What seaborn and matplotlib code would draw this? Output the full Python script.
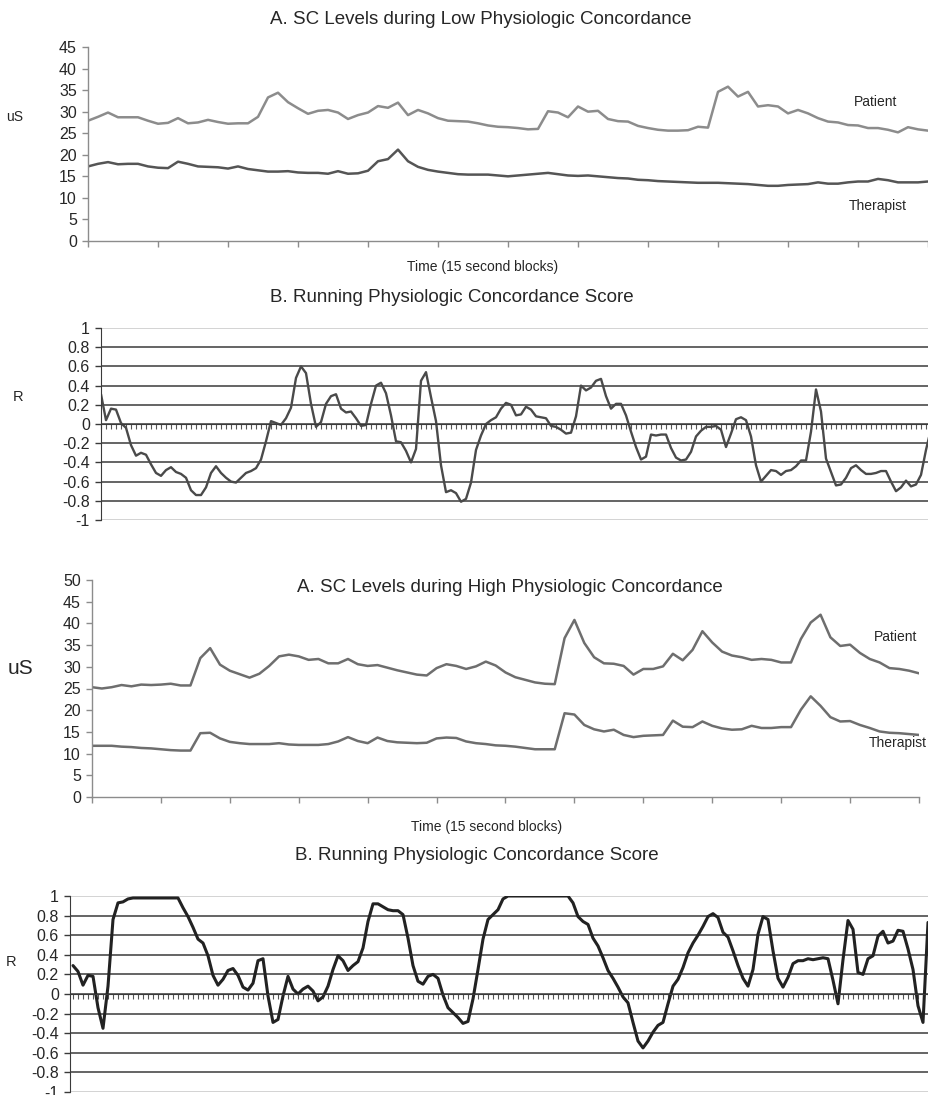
import numpy as np
import matplotlib
matplotlib.use('Agg')
import matplotlib.pyplot as plt
import seaborn as sns

# Constants
OUTPUT_FILE = 'out.png'
FIG_W, FIG_H = 929, 1095
FONT = ['Liberation Sans', 'DejaVu Sans']

# Panel A (low concordance): skin conductance, one value per 10 px step
LOW_PATIENT = [27.9, 28.8, 29.8, 28.7, 28.7, 28.7, 27.9, 27.2, 27.4, 28.5,
               27.3, 27.5, 28.1, 27.6, 27.2, 27.3, 27.3, 28.8, 33.3, 34.4,
               32.2, 30.8, 29.5, 30.2, 30.4, 29.8, 28.3, 29.2, 29.8, 31.3,
               30.9, 32.1, 29.2, 30.4, 29.6, 28.5, 27.9, 27.8, 27.7, 27.3,
               26.8, 26.5, 26.4, 26.2, 25.9, 26.0, 30.1, 29.8, 28.7, 31.2,
               30.0, 30.2, 28.3, 27.8, 27.7, 26.7, 26.2, 25.8, 25.6, 25.6,
               25.7, 26.5, 26.3, 34.6, 35.8, 33.5, 34.6, 31.2, 31.5, 31.2,
               29.6, 30.4, 29.6, 28.5, 27.7, 27.5, 26.9, 26.8, 26.2, 26.2,
               25.8, 25.2, 26.4, 25.9, 25.6]
LOW_THERAPIST = [17.3, 17.9, 18.3, 17.8, 17.9, 17.9, 17.3, 17.0, 16.9, 18.4,
                 17.9, 17.3, 17.2, 17.1, 16.8, 17.3, 16.7, 16.4, 16.1, 16.1,
                 16.2, 15.9, 15.8, 15.8, 15.6, 16.2, 15.6, 15.7, 16.3, 18.5,
                 19.0, 21.2, 18.5, 17.2, 16.5, 16.1, 15.8, 15.5, 15.4, 15.4,
                 15.4, 15.2, 15.0, 15.2, 15.4, 15.6, 15.8, 15.5, 15.2, 15.1,
                 15.2, 15.0, 14.8, 14.6, 14.5, 14.2, 14.1, 13.9, 13.8, 13.7,
                 13.6, 13.5, 13.5, 13.5, 13.4, 13.3, 13.2, 13.0, 12.8, 12.8,
                 13.0, 13.1, 13.2, 13.6, 13.3, 13.3, 13.6, 13.8, 13.8, 14.4,
                 14.1, 13.6, 13.6, 13.6, 13.8]

# Panel B (low concordance): running R score
LOW_R = [0.31, 0.04, 0.16, 0.15, 0.01, -0.04, -0.22, -0.33, -0.30, -0.32,
         -0.42, -0.51, -0.54, -0.48, -0.45, -0.50, -0.52, -0.56, -0.69, -0.74,
         -0.74, -0.66, -0.51, -0.44, -0.51, -0.56, -0.60, -0.61, -0.56, -0.51,
         -0.49, -0.46, -0.37, -0.18, 0.03, 0.01, -0.01, 0.06, 0.17, 0.48,
         0.60, 0.53, 0.21, -0.03, 0.02, 0.21, 0.29, 0.31, 0.16, 0.12,
         0.13, 0.06, -0.02, -0.01, 0.21, 0.40, 0.43, 0.32, 0.09, -0.18,
         -0.19, -0.28, -0.40, -0.26, 0.45, 0.54, 0.28, 0.03, -0.43, -0.71,
         -0.69, -0.72, -0.81, -0.78, -0.61, -0.27, -0.12, 0.00, 0.04, 0.07,
         0.16, 0.22, 0.20, 0.09, 0.10, 0.18, 0.15, 0.08, 0.07, 0.06,
         -0.02, -0.03, -0.06, -0.10, -0.09, 0.08, 0.40, 0.35, 0.38, 0.45,
         0.47, 0.29, 0.16, 0.21, 0.21, 0.09, -0.08, -0.24, -0.37, -0.34,
         -0.11, -0.12, -0.11, -0.11, -0.25, -0.35, -0.38, -0.37, -0.29, -0.13,
         -0.07, -0.03, -0.03, -0.02, -0.06, -0.24, -0.10, 0.05, 0.07, 0.04,
         -0.13, -0.43, -0.60, -0.54, -0.48, -0.49, -0.53, -0.49, -0.48, -0.44,
         -0.38, -0.38, -0.08, 0.36, 0.13, -0.36, -0.50, -0.64, -0.63, -0.56,
         -0.46, -0.43, -0.48, -0.52, -0.52, -0.51, -0.49, -0.49, -0.60, -0.70,
         -0.66, -0.59, -0.65, -0.63, -0.53, -0.27, -0.05]

# Panel A (high concordance)
HIGH_PATIENT = [25.3, 25.0, 25.3, 25.8, 25.5, 25.9, 25.8, 25.9, 26.1, 25.7,
                25.7, 32.0, 34.3, 30.5, 29.1, 28.3, 27.5, 28.4, 30.2, 32.4,
                32.8, 32.4, 31.6, 31.8, 30.8, 30.8, 31.8, 30.6, 30.2, 30.4,
                29.8, 29.2, 28.7, 28.2, 28.0, 29.7, 30.6, 30.2, 29.5, 30.1,
                31.2, 30.3, 28.7, 27.6, 27.0, 26.4, 26.1, 26.0, 36.6, 40.8,
                35.5, 32.2, 30.8, 30.7, 30.2, 28.2, 29.5, 29.5, 30.1, 33.0,
                31.5, 33.9, 38.2, 35.6, 33.5, 32.6, 32.2, 31.6, 31.8, 31.6,
                31.0, 31.0, 36.4, 40.2, 42.0, 36.8, 34.8, 35.1, 33.2, 31.8,
                31.0, 29.7, 29.5, 29.1, 28.5]
HIGH_THERAPIST = [11.8, 11.8, 11.8, 11.6, 11.5, 11.3, 11.2, 11.0, 10.8, 10.7,
                  10.7, 14.7, 14.8, 13.5, 12.7, 12.4, 12.2, 12.2, 12.2, 12.4,
                  12.1, 12.0, 12.0, 12.0, 12.2, 12.8, 13.8, 12.9, 12.4, 13.7,
                  12.9, 12.6, 12.5, 12.4, 12.5, 13.5, 13.7, 13.6, 12.8, 12.4,
                  12.2, 11.9, 11.8, 11.6, 11.3, 11.0, 11.0, 11.0, 19.3, 19.0,
                  16.6, 15.6, 15.1, 15.5, 14.3, 13.8, 14.1, 14.2, 14.3, 17.6,
                  16.2, 16.1, 17.4, 16.4, 15.8, 15.5, 15.6, 16.4, 15.9, 15.9,
                  16.1, 16.1, 20.1, 23.2, 21.0, 18.4, 17.4, 17.5, 16.6, 15.9,
                  15.1, 14.8, 14.7, 14.5, 14.3]

# Panel B (high concordance)
HIGH_R = [0.29, 0.23, 0.09, 0.19, 0.18, -0.14, -0.35, 0.08, 0.76, 0.93,
          0.94, 0.97, 0.98, 0.98, 0.98, 0.98, 0.98, 0.98, 0.98, 0.98,
          0.98, 0.98, 0.88, 0.79, 0.68, 0.56, 0.52, 0.39, 0.19, 0.09,
          0.15, 0.24, 0.26, 0.19, 0.07, 0.04, 0.11, 0.34, 0.36, -0.02,
          -0.29, -0.26, -0.02, 0.18, 0.05, 0.00, 0.05, 0.08, 0.03, -0.07,
          -0.03, 0.08, 0.25, 0.39, 0.34, 0.24, 0.29, 0.33, 0.47, 0.74,
          0.92, 0.92, 0.89, 0.86, 0.85, 0.85, 0.81, 0.57, 0.29, 0.13,
          0.10, 0.18, 0.20, 0.16, -0.01, -0.14, -0.19, -0.24, -0.30, -0.28,
          -0.05, 0.25, 0.56, 0.76, 0.81, 0.86, 0.97, 1.00, 1.00, 1.00,
          1.00, 1.00, 1.00, 1.00, 1.00, 1.00, 1.00, 1.00, 1.00, 1.00,
          0.93, 0.79, 0.74, 0.71, 0.57, 0.49, 0.37, 0.24, 0.16, 0.07,
          -0.03, -0.09, -0.29, -0.48, -0.55, -0.48, -0.39, -0.32, -0.29, -0.10,
          0.08, 0.15, 0.27, 0.42, 0.52, 0.60, 0.69, 0.79, 0.82, 0.78,
          0.63, 0.58, 0.44, 0.29, 0.16, 0.08, 0.25, 0.61, 0.79, 0.76,
          0.44, 0.16, 0.07, 0.17, 0.31, 0.34, 0.34, 0.36, 0.35, 0.36,
          0.37, 0.36, 0.14, -0.10, 0.35, 0.75, 0.66, 0.22, 0.20, 0.36,
          0.39, 0.59, 0.64, 0.52, 0.54, 0.65, 0.64, 0.46, 0.25, -0.12,
          -0.29, 0.73]

R_TICKS = [-1, -0.8, -0.6, -0.4, -0.2, 0, 0.2, 0.4, 0.6, 0.8, 1]
R_TICK_LABELS = ['-1', '-0.8', '-0.6', '-0.4', '-0.2', '0', '0.2', '0.4', '0.6', '0.8', '1']
SC_TICK_STEP = 7
TICK_SIZE = 11.5
TITLE_SIZE = 13.5


def add_axes_px(fig, left, top, right, bottom):
    """Add axes using pixel edges measured from the top-left corner."""
    return fig.add_axes([left / FIG_W, 1 - bottom / FIG_H,
                         (right - left) / FIG_W, (bottom - top) / FIG_H])


def text_px(fig, x, y, s, **kw):
    fig.text(x / FIG_W, 1 - y / FIG_H, s, ha='center', va='center', **kw)


def sc_panel(ax, patient, therapist, ymax, ystep, pcolor, tcolor):
    x = np.arange(len(patient))
    sns.lineplot(x=x, y=patient, ax=ax, color=pcolor, lw=1.8)
    sns.lineplot(x=x, y=therapist, ax=ax, color=tcolor, lw=1.8)
    ax.set_ylim(0, ymax)
    ax.set_yticks(np.arange(0, ymax + 1, ystep))
    ax.set_xticks(np.arange(0, len(patient), SC_TICK_STEP))
    ax.set_xticklabels([])
    for side in ['top', 'right']:
        ax.spines[side].set_visible(False)
    for side in ['left', 'bottom']:
        ax.spines[side].set_color('#8c8c8c')
        ax.spines[side].set_linewidth(1.0)
    ax.tick_params(axis='both', bottom=True, left=True, direction='out',
                   length=4, width=1, color='#8c8c8c', labelsize=TICK_SIZE, pad=4)
    ax.set_xlabel('')
    ax.set_ylabel('')


def r_panel(ax, values, xmin, xmax, color, lw):
    x = np.arange(len(values))
    sns.lineplot(x=x, y=values, ax=ax, color=color, lw=lw)
    ax.set_xlim(xmin, xmax)
    ax.set_ylim(-1, 1)
    ax.set_yticks(R_TICKS)
    ax.set_yticklabels(R_TICK_LABELS)
    ax.yaxis.grid(True, color='#3a3a3a', lw=1.1)
    grid = ax.get_ygridlines()
    grid[0].set_color('#c8c8c8')
    grid[-1].set_color('#c8c8c8')
    ax.set_axisbelow(True)
    ax.set_xticks(x[(x >= xmin) & (x <= xmax)])
    ax.set_xticklabels([])
    ax.spines['bottom'].set_position(('data', 0))
    ax.spines['bottom'].set_color('#3a3a3a')
    ax.spines['left'].set_color('#3a3a3a')
    ax.spines['top'].set_visible(False)
    ax.spines['right'].set_visible(False)
    ax.tick_params(axis='x', bottom=True, direction='out', length=3.5,
                   width=0.8, color='#555555')
    ax.tick_params(axis='y', left=True, direction='out', length=4, width=1,
                   color='#3a3a3a', labelsize=TICK_SIZE, pad=4)
    ax.set_xlabel('')
    ax.set_ylabel('')


def main():
    sns.set_style('white')
    plt.rcParams['font.family'] = FONT

    fig = plt.figure(figsize=(FIG_W / 100, FIG_H / 100), dpi=100)

    # A. low concordance
    ax1 = add_axes_px(fig, 88, 47, 929, 241)
    sc_panel(ax1, LOW_PATIENT, LOW_THERAPIST, 45, 5, '#8c8c8c', '#555555')
    ax1.set_xlim(0, 84.1)
    text_px(fig, 481, 20, 'A. SC Levels during Low Physiologic Concordance', fontsize=TITLE_SIZE)
    text_px(fig, 15, 117, 'uS', fontsize=10)
    text_px(fig, 876, 102, 'Patient', fontsize=10)
    text_px(fig, 878, 206, 'Therapist', fontsize=10)
    text_px(fig, 483, 267, 'Time (15 second blocks)', fontsize=10)

    # B. low concordance
    ax2 = add_axes_px(fig, 101, 328, 929, 520)
    r_panel(ax2, LOW_R, 0, 165.6, '#4a4a4a', 1.7)
    text_px(fig, 452, 297, 'B. Running Physiologic Concordance Score', fontsize=TITLE_SIZE)
    text_px(fig, 18, 397, 'R', fontsize=10.5)

    # A. high concordance
    ax3 = add_axes_px(fig, 92, 580, 919, 797)
    sc_panel(ax3, HIGH_PATIENT, HIGH_THERAPIST, 50, 5, '#6e6e6e', '#6e6e6e')
    ax3.set_xlim(0, 84)
    text_px(fig, 510, 588, 'A. SC Levels during High Physiologic Concordance', fontsize=TITLE_SIZE)
    text_px(fig, 21, 668, 'uS', fontsize=15)
    text_px(fig, 896, 637, 'Patient', fontsize=10)
    text_px(fig, 898, 743, 'Therapist', fontsize=10)
    text_px(fig, 487, 827, 'Time (15 second blocks)', fontsize=10)

    # B. high concordance
    ax4 = add_axes_px(fig, 70, 896, 929, 1092)
    r_panel(ax4, HIGH_R, -0.6, 171.2, '#222222', 2.2)
    text_px(fig, 477, 855, 'B. Running Physiologic Concordance Score', fontsize=TITLE_SIZE)
    text_px(fig, 11, 962, 'R', fontsize=10.5)

    fig.savefig(OUTPUT_FILE, dpi=100)


if __name__ == "__main__":
    main()
